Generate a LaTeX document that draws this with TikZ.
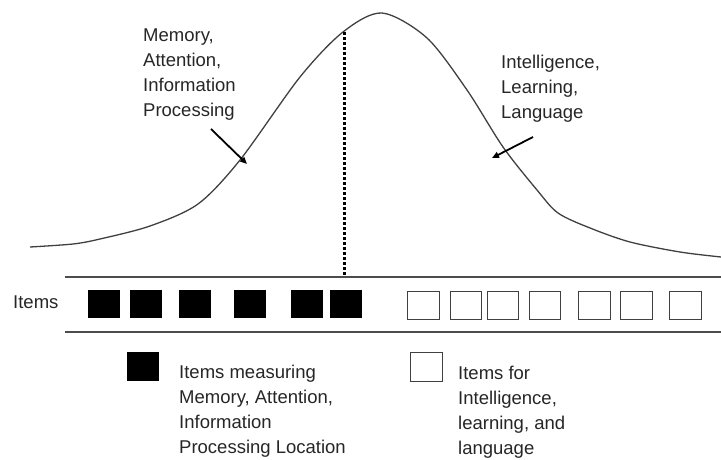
\documentclass[tikz,border=0pt]{standalone}
\usepackage{fontspec}
\setmainfont{Liberation Sans}
\usetikzlibrary{arrows.meta}

\begin{document}
\begin{tikzpicture}[x=1pt,y=-1pt,
  txt/.style={align=left,inner sep=0pt,anchor=north west,text=black!85,font=\fontsize{18.5}{25}\selectfont},
  itemfull/.style={fill=black,draw=black,minimum width=31pt,minimum height=27pt,inner sep=0pt},
  itemopen/.style={draw=black!75,line width=1.4pt,minimum width=31.5pt,minimum height=27.5pt,inner sep=0pt},
  pointer/.style={line width=1.8pt,-{Triangle[length=7pt,width=6pt]}},
  rule/.style={draw=black!70,line width=1.5pt},
  cutline/.style={line width=3pt,dash pattern=on 3pt off 2pt}]
\useasboundingbox (0,0) rectangle (721,460);

% the curve
\draw[black!75,line width=1.3pt] plot[smooth,tension=0.5] coordinates {(30,247) (73,244) (100,239) (150,226) (198,204) (240,160) (300,77) (343,32) (382,13) (427,38) (467,90) (503,147) (537,190) (558,213) (590,228) (630,242) (680,252) (721,257)};

% cut position
\coordinate (cut top) at (344,32);
\coordinate (cut bot) at (344,277);
\draw[cutline] (cut top) -- (cut bot);

% labels above the curve
\node[txt] (mem) at (143,29) {Memory,\\Attention,\\Information\\Processing};
\node[txt] (intel) at (501,55) {Intelligence,\\Learning,\\Language};
\coordinate (mem tail) at (211,129);
\coordinate (mem tip) at (247,164);
\coordinate (intel tail) at (533,137);
\coordinate (intel tip) at (492,158);
\draw[pointer] (mem tail) -- (mem tip);
\draw[pointer] (intel tail) -- (intel tip);

% item row
\coordinate (row a) at (65,277);
\coordinate (row b) at (721,277);
\coordinate (row c) at (65,332);
\coordinate (row d) at (721,332);
\draw[rule] (row a) -- (row b);
\draw[rule] (row c) -- (row d);
\node[txt,anchor=west] (items) at (13,302) {Items};
\foreach \x [count=\i] in {104,146,195,250,307,346}
  \node[itemfull] (f\i) at (\x,304) {};
\foreach \x [count=\i] in {423.5,466,503,545,594.5,636.5,685.5}
  \node[itemopen] (o\i) at (\x,305.5) {};

% legend
\node[itemfull,minimum height=28pt] (key full) at (143,366.5) {};
\node[itemopen,minimum height=28.5pt] (key open) at (426.5,367) {};
\node[txt] (key full txt) at (179,365) {Items measuring\\Memory, Attention,\\Information\\Processing Location};
\node[txt] (key open txt) at (458,366) {Items for\\Intelligence,\\learning, and\\language};
\end{tikzpicture}
\end{document}
